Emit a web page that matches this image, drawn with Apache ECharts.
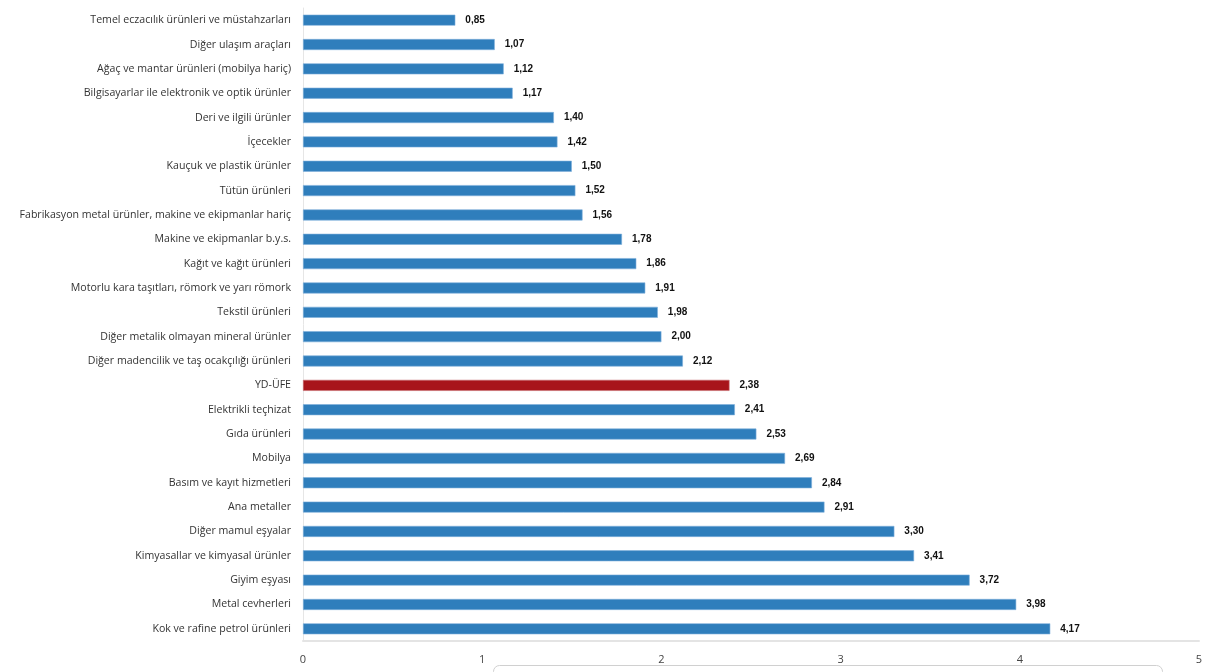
<!DOCTYPE html>
<html><head><meta charset="utf-8">
<script src="https://cdn.jsdelivr.net/npm/echarts@6/dist/echarts.min.js"></script>
<style>html,body{margin:0;padding:0;background:#fff;}#c{width:1219px;height:672px;}</style>
</head><body><div id="c"></div>
<script>
const categories = [
"Temel eczacılık ürünleri ve müstahzarları",
"Diğer ulaşım araçları",
"Ağaç ve mantar ürünleri (mobilya hariç)",
"Bilgisayarlar ile elektronik ve optik ürünler",
"Deri ve ilgili ürünler",
"İçecekler",
"Kauçuk ve plastik ürünler",
"Tütün ürünleri",
"Fabrikasyon metal ürünler, makine ve ekipmanlar hariç",
"Makine ve ekipmanlar b.y.s.",
"Kağıt ve kağıt ürünleri",
"Motorlu kara taşıtları, römork ve yarı römork",
"Tekstil ürünleri",
"Diğer metalik olmayan mineral ürünler",
"Diğer madencilik ve taş ocakçılığı ürünleri",
"YD-ÜFE",
"Elektrikli teçhizat",
"Gıda ürünleri",
"Mobilya",
"Basım ve kayıt hizmetleri",
"Ana metaller",
"Diğer mamul eşyalar",
"Kimyasallar ve kimyasal ürünler",
"Giyim eşyası",
"Metal cevherleri",
"Kok ve rafine petrol ürünleri"
];
const values = [0.85,1.07,1.12,1.17,1.40,1.42,1.50,1.52,1.56,1.78,1.86,1.91,1.98,2.00,2.12,2.38,2.41,2.53,2.69,2.84,2.91,3.30,3.41,3.72,3.98,4.17];
const highlight = "YD-ÜFE";
const xTicks = [0,1,2,3,4,5];

const chart = echarts.init(document.getElementById('c'));
chart.setOption({
  animation:false,
  grid:{left:303,right:20,top:8,bottom:31,containLabel:false},
  xAxis:{type:'value',min:xTicks[0],max:xTicks[xTicks.length-1],interval:1,
    axisLine:{show:true,lineStyle:{color:'#e4e4e4',width:2}},axisTick:{show:false},splitLine:{show:false},
    axisLabel:{color:'#444',fontFamily:'Open Sans',fontSize:11,margin:13}},
  yAxis:{type:'category',inverse:true,data:categories,
    axisLine:{show:true,lineStyle:{color:'#e6e6e6',width:1}},axisTick:{show:false},
    axisLabel:{color:'#333',fontFamily:'Open Sans',fontSize:10.6,margin:12}},
  series:[{type:'bar',barWidth:11,
    data:categories.map((c,i)=>({value:values[i],itemStyle:{color:c===highlight?'#a8151b':'#2f7ebc',borderColor:c===highlight?'#c86a6e':'#7fb0dc',borderWidth:0.6}})),
    label:{show:true,position:'right',distance:10,color:'#111',fontFamily:'Liberation Sans',fontWeight:'bold',fontSize:10,
      formatter:p=>p.value.toFixed(2).replace('.',',')}}
  ],
  graphic:[{type:'rect',left:493,top:665,shape:{width:669,height:30,r:6},style:{fill:'#fff',stroke:'#d0d0d0',lineWidth:1}}]
});
</script></body></html>
